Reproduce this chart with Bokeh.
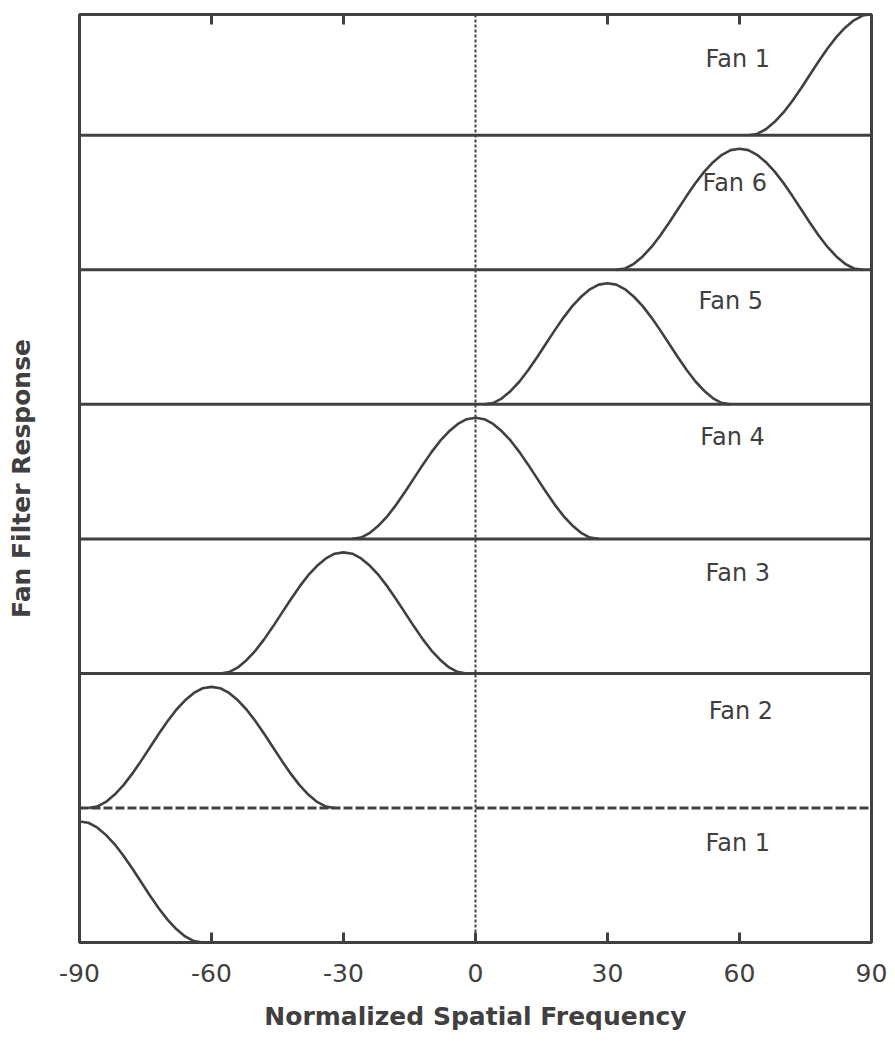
from bokeh.plotting import figure
from bokeh.models import Range1d, Span, FixedTicker, ColumnDataSource
from bokeh.core.properties import value
from bokeh.embed import file_html
from bokeh.resources import INLINE

# ---- data ----
fan_names = ["Fan 1", "Fan 2", "Fan 3", "Fan 4", "Fan 5", "Fan 6", "Fan 1"]  # bottom -> top
fan_centers = [-90, -60, -30, 0, 30, 60, 90]  # degrees
profile_offsets = [-28, -26, -24, -22, -20, -18, -16, -14, -12, -10, -8, -6, -4, -2, 0,
                   2, 4, 6, 8, 10, 12, 14, 16, 18, 20, 22, 24, 26, 28]
profile_response = [0.0, 0.01, 0.045, 0.10, 0.17, 0.255, 0.35, 0.45, 0.55, 0.645, 0.73, 0.80, 0.855, 0.89, 0.90,
                    0.89, 0.855, 0.80, 0.73, 0.645, 0.55, 0.45, 0.35, 0.255, 0.17, 0.10, 0.045, 0.01, 0.0]
x_ticks = [-90, -60, -30, 0, 30, 60, 90]
x_tick_labels = ["-90", "-60", "-30", "0", "30", "60", "90"]
top_ticks = [-60, -30, 30, 60]

# label placement (panel-relative)
label_x = [52.3, 53.0, 52.3, 51.1, 50.7, 51.6, 52.3]
label_dy = [0.736, 0.721, 0.743, 0.758, 0.766, 0.647, 0.565]

INK = "#404040"
n_panels = len(fan_names)
top_visible = 0.898  # top panel is cropped
y_top = n_panels - 1 + top_visible
px_per_unit = 928 / y_top

p = figure(frame_width=792, frame_height=928,
           min_border_left=79, min_border_right=16, min_border_top=14, min_border_bottom=95,
           x_range=Range1d(-90, 90), y_range=Range1d(0, y_top),
           output_backend="svg", toolbar_location=None, x_axis_location="below")
p.grid.visible = False
p.background_fill_color = "white"
p.border_fill_color = "white"
p.outline_line_color = INK
p.outline_line_width = 3

# bottom axis
xa = p.xaxis[0]
xa.ticker = FixedTicker(ticks=x_ticks)
xa.major_label_overrides = {t: l for t, l in zip(x_ticks, x_tick_labels)}
xa.major_tick_in = 10
xa.major_tick_out = 0
xa.major_tick_line_width = 3
xa.major_tick_line_color = INK
xa.minor_tick_line_color = None
xa.axis_line_color = None
xa.major_label_standoff = 21
xa.major_label_text_font = "DejaVu Sans"
xa.major_label_text_font_size = "25px"
xa.major_label_text_color = INK
xa.axis_label = "Normalized Spatial Frequency"
xa.axis_label_text_font = "DejaVu Sans"
xa.axis_label_text_font_style = "bold"
xa.axis_label_text_font_size = "25px"
xa.axis_label_text_color = INK
xa.axis_label_standoff = 17

# left axis: label only
ya = p.yaxis[0]
ya.ticker = FixedTicker(ticks=[])
ya.axis_line_color = None
ya.major_tick_line_color = None
ya.minor_tick_line_color = None
ya.axis_label = "Fan Filter Response"
ya.axis_label_text_font = "DejaVu Sans"
ya.axis_label_text_font_style = "bold"
ya.axis_label_text_font_size = "25px"
ya.axis_label_text_color = INK
ya.axis_label_standoff = 44

# top-edge inward ticks
tick_len = 10 / px_per_unit
p.segment(x0=top_ticks, y0=[y_top] * len(top_ticks), x1=top_ticks, y1=[y_top - tick_len] * len(top_ticks),
          line_color=INK, line_width=3)

# panel dividers
for k in range(1, n_panels):
    p.add_layout(Span(location=k, dimension="width", line_color=INK, line_width=3,
                      line_dash="9 3" if k == 1 else "solid"))

# zero line
p.add_layout(Span(location=0, dimension="height", line_color=INK, line_width=2, line_dash="3 2"))

# curves
for k, c in enumerate(fan_centers):
    xs = [c + o for o in profile_offsets]
    ys = [k + r for r in profile_response]
    p.line(xs, ys, line_color=INK, line_width=2.6)

# labels
src = ColumnDataSource(dict(x=label_x, y=[k + d for k, d in enumerate(label_dy)], t=fan_names))
p.text(x="x", y="y", text="t", source=src, text_font=value("DejaVu Sans"), text_font_size="24px",
       text_color=INK, text_align="left", text_baseline="middle")

open("out.html", "w").write(file_html(p, INLINE))
